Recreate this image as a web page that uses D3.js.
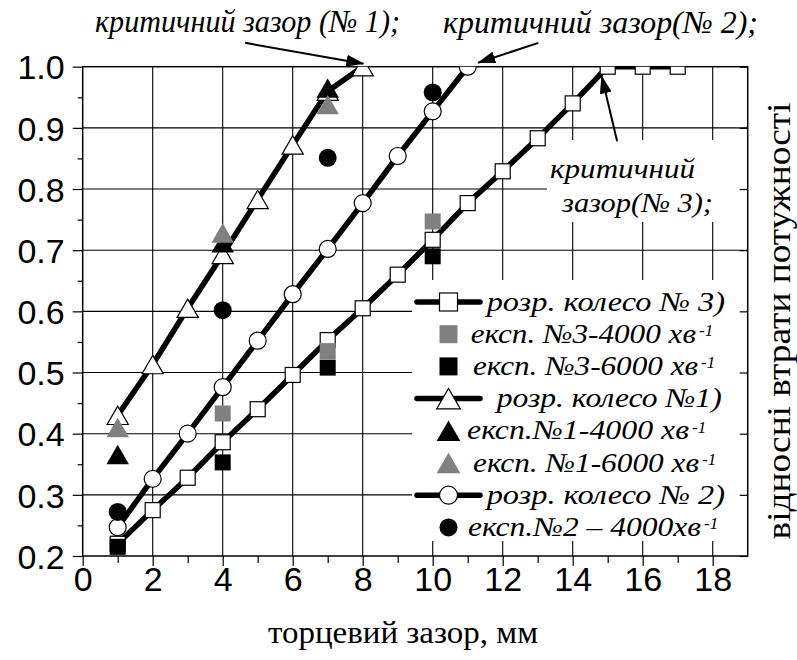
<!DOCTYPE html>
<meta charset="utf-8">
<style>
  body { margin: 0; background: #fff; }
  svg { display: block; }
  .tick text { font-family: "Liberation Sans", Arial, sans-serif; font-size: 34px; fill: #000; }
  .tick line { stroke: #000; stroke-width: 1.2px; }
</style>
<body>
<svg width="797" height="660"></svg>
<script src="https://d3js.org/d3.v7.min.js"></script>
<script>
// розрахункові криві (x — торцевий зазор, мм)
var calcX1 = [1, 2, 3, 4, 5, 6, 7, 8];
var calcY1 = [0.43, 0.513, 0.605, 0.693, 0.783, 0.872, 0.96, 1.0];
var calcX2 = [1, 2, 3, 4, 5, 6, 7, 8, 9, 10, 11];
var calcY2 = [0.247, 0.326, 0.40, 0.476, 0.552, 0.628, 0.702, 0.777, 0.854, 0.927, 1.0];
var calcX3 = [1, 2, 3, 4, 5, 6, 7, 8, 9, 10, 11, 12, 13, 14, 15, 16, 17];
var calcY3 = [0.22, 0.275, 0.328, 0.386, 0.44, 0.496, 0.553, 0.605, 0.66, 0.717, 0.777, 0.829, 0.883, 0.94, 1.0, 1.0, 1.0];

// експериментальні точки
var exp3aX = [4, 7, 10];        var exp3aY = [0.433, 0.535, 0.747];   // №3-4000
var exp3bX = [1, 4, 7, 10];     var exp3bY = [0.215, 0.353, 0.508, 0.69]; // №3-6000
var exp1aX = [1, 4, 7];         var exp1aY = [0.366, 0.712, 0.965];   // №1-4000
var exp1bX = [1, 4, 7];         var exp1bY = [0.41, 0.728, 0.938];    // №1-6000
var exp2aX = [1, 4, 7, 10];     var exp2aY = [0.272, 0.602, 0.851, 0.958]; // №2-4000

var xTicks = [0, 2, 4, 6, 8, 10, 12, 14, 16, 18];
var xMinor = [1, 3, 5, 7, 9, 11, 13, 15, 17];
var yTicks = [0.2, 0.3, 0.4, 0.5, 0.6, 0.7, 0.8, 0.9, 1.0];
var yMinor = [0.25, 0.35, 0.45, 0.55, 0.65, 0.75, 0.85, 0.95];

var legendLabels = ["розр. колесо № 3)", "експ. №3-4000 хв", "експ. №3-6000 хв", "розр. колесо №1)",
                    "експ.№1-4000 хв", "експ. №1-6000 хв", "розр. колесо № 2)", "експ.№2 – 4000хв"];
var legendSup = ["", "-1", "-1", "", "-1", "-1", "", "-1"];

var annText = ["критичний зазор (№ 1);", "критичний зазор(№ 2);", "критичний", "зазор(№ 3);"];
// стрілки: [x хвоста, y хвоста, x вістря, y вістря] у координатах даних
var arrows = [[4.64, 1.039, 8.02, 1.005], [13.02, 1.039, 11.3, 1.0065], [15.27, 0.878, 14.83, 0.984]];

var xTitle = "торцевий зазор, мм";
var yTitle = "відносні втрати потужності";

//------------------------------------------------------------------------------
const SERIF = "Liberation Serif, Times New Roman, serif";
const svg = d3.select("svg");
const L = 82.7, R = 747.7, T = 66.7, B = 556;
const x = d3.scaleLinear().domain([0, 19]).range([L, R]);
const y = d3.scaleLinear().domain([0.2, 1.0]).range([B, T]);

// сітка
const grid = svg.append("g").attr("stroke", "#000").attr("stroke-width", 1.1);
grid.selectAll(".gx").data(xTicks.filter(d => d > 0)).join("line")
  .attr("x1", d => x(d)).attr("x2", d => x(d)).attr("y1", T).attr("y2", B);
grid.selectAll(".gy").data(yTicks.filter(d => d > 0.2 && d < 1)).join("line")
  .attr("x1", L).attr("x2", R).attr("y1", d => y(d)).attr("y2", d => y(d));

// білі підкладки легенди та підпису
svg.append("rect").attr("x", 412).attr("y", 280).attr("width", R - 412 - 0.5).attr("height", 261).attr("fill", "#fff");
svg.append("rect").attr("x", 547).attr("y", 140).attr("width", R - 547 - 0.5).attr("height", 82).attr("fill", "#fff");

// осі
const ax = svg.append("g").attr("transform", `translate(0,${B})`)
  .call(d3.axisBottom(x).tickValues(xTicks).tickSize(10).tickPadding(2).tickFormat(d3.format("d")));
svg.append("g").attr("transform", `translate(0,${B})`)
  .call(d3.axisBottom(x).tickValues(xMinor).tickSize(7).tickFormat(""));
const ay = svg.append("g").attr("transform", `translate(${L},0)`)
  .call(d3.axisLeft(y).tickValues(yTicks).tickSize(10).tickPadding(8).tickFormat(d3.format(".1f")));
svg.append("g").attr("transform", `translate(${L},0)`)
  .call(d3.axisLeft(y).tickValues(yMinor).tickSize(5).tickFormat(""));
svg.append("g").attr("transform", `translate(${R},0)`)
  .call(d3.axisLeft(y).tickValues(yTicks).tickSize(8).tickFormat(""));
svg.selectAll(".domain").remove();
ax.selectAll(".tick text").attr("dy", null).attr("y", 35);
ay.selectAll(".tick text").attr("dy", "0.36em");
svg.append("rect").attr("x", L).attr("y", T).attr("width", R - L).attr("height", B - T)
  .attr("fill", "none").attr("stroke", "#000").attr("stroke-width", 1.5);

// маркери
function marker(g, shape, s) {
  if (shape === "square") {
    return g.append("rect").attr("x", -s / 2).attr("y", -s / 2).attr("width", s).attr("height", s);
  } else if (shape === "circle") {
    return g.append("circle").attr("r", s / 2);
  }
  const w = s * 1.25, h = s * 1.08;
  return g.append("path").attr("d", `M0,${-h / 2}L${w / 2},${h / 2}L${-w / 2},${h / 2}Z`);
}
function styleMark(sel, fill) {
  sel.attr("fill", fill).attr("stroke", fill === "#fff" ? "#000" : "none").attr("stroke-width", 1.2);
}

svg.append("clipPath").attr("id", "plot").append("rect")
  .attr("x", L).attr("y", T).attr("width", R - L).attr("height", B - T);
const plot = svg.append("g").attr("clip-path", "url(#plot)");

const line = d3.line().x(d => x(d[0])).y(d => y(d[1]));
const calc = [
  { xs: calcX3, ys: calcY3, shape: "square", size: 15 },
  { xs: calcX1, ys: calcY1, shape: "tri", size: 17 },
  { xs: calcX2, ys: calcY2, shape: "circle", size: 17 }
];
calc.forEach(c => {
  const pts = d3.zip(c.xs, c.ys);
  plot.append("path").attr("d", line(pts)).attr("fill", "none")
    .attr("stroke", "#000").attr("stroke-width", 5.5).attr("stroke-linejoin", "round");
  pts.forEach(p => {
    const g = plot.append("g").attr("transform", `translate(${x(p[0])},${y(p[1])})`);
    styleMark(marker(g, c.shape, c.size), "#fff");
  });
});

const exps = [
  { xs: exp3aX, ys: exp3aY, shape: "square", fill: "#808080", size: 16 },
  { xs: exp3bX, ys: exp3bY, shape: "square", fill: "#000", size: 16 },
  { xs: exp1aX, ys: exp1aY, shape: "tri", fill: "#000", size: 18 },
  { xs: exp1bX, ys: exp1bY, shape: "tri", fill: "#808080", size: 18 },
  { xs: exp2aX, ys: exp2aY, shape: "circle", fill: "#000", size: 18 }
];
exps.forEach(e => {
  d3.zip(e.xs, e.ys).forEach(p => {
    const g = plot.append("g").attr("transform", `translate(${x(p[0])},${y(p[1])})`);
    styleMark(marker(g, e.shape, e.size), e.fill);
  });
});

// курсивний текст із засічками
function slanted(x0, y0, size, len, t) {
  const el = svg.append("text")
    .attr("x", x0).attr("y", y0)
    .attr("font-family", SERIF).attr("font-style", "italic").attr("fill", "#000")
    .attr("font-size", size).text(t);
  if (len) el.attr("textLength", len).attr("lengthAdjust", "spacingAndGlyphs");
  return el;
}

// легенда
const legItems = [
  { shape: "square", fill: "#fff", line: true, x0: 486.7, x1: 725 },
  { shape: "square", fill: "#808080", x0: 470.7, x1: 696 },
  { shape: "square", fill: "#000", x0: 473, x1: 698 },
  { shape: "tri", fill: "#fff", line: true, x0: 496.7, x1: 721.7 },
  { shape: "tri", fill: "#000", x0: 467, x1: 689 },
  { shape: "tri", fill: "#808080", x0: 473, x1: 699 },
  { shape: "circle", fill: "#fff", line: true, x0: 486.7, x1: 725 },
  { shape: "circle", fill: "#000", x0: 468, x1: 701 }
];
legItems.forEach((it, i) => {
  const cy = 302 + i * 32.2;
  if (it.line) {
    svg.append("line").attr("x1", 417).attr("x2", 480).attr("y1", cy).attr("y2", cy)
      .attr("stroke", "#000").attr("stroke-width", 5.5).attr("stroke-linecap", "round");
  }
  const g = svg.append("g").attr("transform", `translate(448.5,${cy})`);
  styleMark(marker(g, it.shape, it.shape === "tri" ? 19 : 18), it.fill);
  slanted(it.x0, cy + 8.5, 27, it.x1 - it.x0, legendLabels[i]);
  if (legendSup[i]) slanted(it.x1 + 3, cy + 2, 17, 0, legendSup[i]);
});

// анотації
const annPos = [[95, 32, 305, 32], [443, 33, 315, 32], [550, 178, 145, 28], [562, 212, 151, 28]];
annText.forEach((t, i) => slanted(annPos[i][0], annPos[i][1], annPos[i][3], annPos[i][2], t));

svg.append("defs").append("marker").attr("id", "arr")
  .attr("viewBox", "0 0 18 12").attr("refX", 17).attr("refY", 6)
  .attr("markerWidth", 18).attr("markerHeight", 12).attr("markerUnits", "userSpaceOnUse")
  .attr("orient", "auto")
  .append("path").attr("d", "M0,0L18,6L0,12Z").attr("fill", "#000");
arrows.forEach(a => {
  svg.append("line").attr("x1", x(a[0])).attr("y1", y(a[1])).attr("x2", x(a[2])).attr("y2", y(a[3]))
    .attr("stroke", "#000").attr("stroke-width", 2).attr("marker-end", "url(#arr)");
});

// підписи осей
svg.append("text").attr("x", 268).attr("y", 643)
  .attr("font-family", SERIF).attr("font-size", 31)
  .attr("textLength", 270).attr("lengthAdjust", "spacingAndGlyphs").text(xTitle);
svg.append("text").attr("transform", "translate(790,321) rotate(-90)")
  .attr("text-anchor", "middle")
  .attr("font-family", SERIF).attr("font-size", 33)
  .attr("textLength", 437).attr("lengthAdjust", "spacingAndGlyphs").text(yTitle);
</script>
</body>
